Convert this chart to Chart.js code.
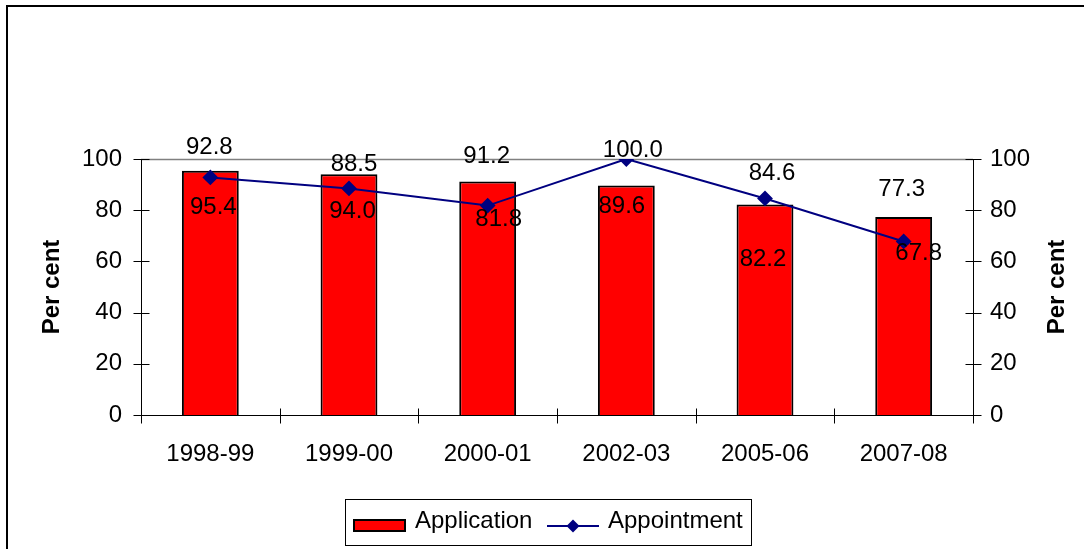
<!DOCTYPE html>
<html>
<head>
<meta charset="utf-8">
<title>Application and Appointment</title>
<script src="https://cdn.jsdelivr.net/npm/chart.js"></script>
<style>
  body { margin: 0; background: #fff; }
  canvas { display: block; }
</style>
</head>
<body>
<canvas id="chart" width="1084" height="549"></canvas>
<script>
// data
var years = ['1998-99', '1999-00', '2000-01', '2002-03', '2005-06', '2007-08'];
var application = [95.4, 94.0, 91.2, 89.6, 82.2, 77.3];
var appointment = [92.8, 88.5, 81.8, 100.0, 84.6, 67.8];
var percentTicks = [0, 20, 40, 60, 80, 100];

var FONT = '"Liberation Sans", Arial, sans-serif';

// hand placed label nudges, like in the original (dx, dy from the mark)
var barLabelNudge = [[3, 37], [3.5, 37], [-1, -25.5], [-4.5, 20.5], [-2, 54.5], [-2, -27.5]];
var lineLabelNudge = [[-1, -30], [5, -24.5], [11, 13.5], [6.5, -9], [7, -25.5], [15, 12]];

function crossTick(ctx, x1, y1, x2, y2) {
  ctx.beginPath();
  ctx.moveTo(x1, y1);
  ctx.lineTo(x2, y2);
  ctx.stroke();
}

var decorations = {
  id: 'decorations',
  beforeDatasetsDraw: function(chart) {
    var ctx = chart.ctx, a = chart.chartArea, y = chart.scales.y;
    var top = Math.round(y.getPixelForValue(100)) + 0.5;
    ctx.save();
    ctx.strokeStyle = '#808080';
    ctx.lineWidth = 1.5;
    crossTick(ctx, a.left, top, a.right, top);
    ctx.restore();
  },
  afterDatasetsDraw: function(chart) {
    var ctx = chart.ctx, a = chart.chartArea;
    var xs = chart.scales.x, ys = chart.scales.y;
    ctx.save();
    ctx.strokeStyle = '#000';
    ctx.lineWidth = 1;
    var L = Math.round(a.left) + 0.5, R = Math.round(a.right) + 0.5, B = Math.round(a.bottom) + 0.5;
    crossTick(ctx, L, a.top, L, B);
    crossTick(ctx, R, a.top, R, B);
    crossTick(ctx, a.left, B, a.right, B);
    percentTicks.forEach(function(v) {
      var py = Math.round(ys.getPixelForValue(v)) + 0.5;
      crossTick(ctx, L - 8, py, L + 8, py);
      crossTick(ctx, R - 8, py, R + 8, py);
    });
    for (var i = 0; i <= years.length; i++) {
      var px = Math.round(xs.left + i * xs.width / years.length) + 0.5;
      crossTick(ctx, px, B - 7, px, B + 8);
    }

    // value labels
    ctx.fillStyle = '#000';
    ctx.font = '24px ' + FONT;
    ctx.textAlign = 'center';
    ctx.textBaseline = 'middle';
    chart.getDatasetMeta(0).data.forEach(function(el, i) {
      ctx.fillText(application[i].toFixed(1), el.x + barLabelNudge[i][0], el.y + barLabelNudge[i][1]);
    });
    chart.getDatasetMeta(1).data.forEach(function(el, i) {
      ctx.fillText(appointment[i].toFixed(1), el.x + lineLabelNudge[i][0], el.y + lineLabelNudge[i][1]);
    });
    ctx.restore();
  },
  afterDraw: function(chart) {
    var ctx = chart.ctx, a = chart.chartArea;
    var midY = (a.top + a.bottom) / 2;
    ctx.save();

    // outer frame (only left and top edges show)
    ctx.strokeStyle = '#000';
    ctx.lineWidth = 2;
    ctx.beginPath();
    ctx.moveTo(7, 549);
    ctx.lineTo(7, 6);
    ctx.lineTo(1084, 6);
    ctx.stroke();

    // axis titles
    ctx.fillStyle = '#000';
    ctx.font = 'bold 24px ' + FONT;
    ctx.textAlign = 'center';
    ctx.textBaseline = 'middle';
    [52, 1057].forEach(function(x) {
      ctx.save();
      ctx.translate(x, midY);
      ctx.rotate(-Math.PI / 2);
      ctx.fillText('Per cent', 0, 0);
      ctx.restore();
    });

    // legend
    ctx.lineWidth = 1;
    ctx.strokeStyle = '#000';
    ctx.strokeRect(345.5, 499.5, 406, 46);
    ctx.fillStyle = '#FF0000';
    ctx.fillRect(354, 520, 51, 11);
    ctx.lineWidth = 2;
    ctx.strokeRect(354, 520, 51, 11);
    ctx.strokeStyle = '#000080';
    ctx.lineWidth = 2;
    crossTick(ctx, 547, 526, 599, 526);
    ctx.fillStyle = '#000080';
    ctx.beginPath();
    ctx.moveTo(573, 519.5);
    ctx.lineTo(579.5, 526);
    ctx.lineTo(573, 532.5);
    ctx.lineTo(566.5, 526);
    ctx.closePath();
    ctx.fill();
    ctx.fillStyle = '#000';
    ctx.font = '24px ' + FONT;
    ctx.textAlign = 'left';
    ctx.textBaseline = 'alphabetic';
    ctx.fillText('Application', 415, 528);
    ctx.fillText('Appointment', 608, 528);
    ctx.restore();
  }
};

var ctxChart = document.getElementById('chart').getContext('2d');

var chart = new Chart(ctxChart, {
  type: 'bar',
  data: {
    labels: years,
    datasets: [
      {
        type: 'bar',
        label: 'Application',
        data: application,
        backgroundColor: '#FF0000',
        borderColor: '#000',
        borderWidth: 2,
        barPercentage: 0.41,
        categoryPercentage: 1,
        order: 2
      },
      {
        type: 'line',
        label: 'Appointment',
        data: appointment,
        borderColor: '#000080',
        borderWidth: 2,
        pointStyle: 'rectRot',
        pointRadius: 6.5,
        pointBackgroundColor: '#000080',
        pointBorderColor: '#000080',
        tension: 0,
        order: 1
      }
    ]
  },
  options: {
    responsive: false,
    animation: false,
    layout: {
      padding: { top: 159, right: 0, bottom: 74, left: 0 }
    },
    plugins: {
      legend: { display: false },
      tooltip: { enabled: false }
    },
    scales: {
      x: {
        offset: true,
        grid: { display: false, drawTicks: false },
        border: { display: false },
        ticks: { color: '#000', padding: 25, maxRotation: 0, font: { family: FONT, size: 24 } },
        afterFit: function(s) { s.height = 60; }
      },
      y: {
        position: 'left',
        min: 0,
        max: 100,
        grid: { display: false, drawTicks: false },
        border: { display: false },
        ticks: { stepSize: 20, color: '#000', padding: 19, font: { family: FONT, size: 24 } },
        afterFit: function(s) { s.width = 141; }
      },
      y2: {
        position: 'right',
        min: 0,
        max: 100,
        grid: { display: false, drawTicks: false },
        border: { display: false },
        ticks: { stepSize: 20, color: '#000', padding: 17, font: { family: FONT, size: 24 } },
        afterFit: function(s) { s.width = 111; }
      }
    }
  },
  plugins: [decorations]
});
</script>
</body>
</html>
